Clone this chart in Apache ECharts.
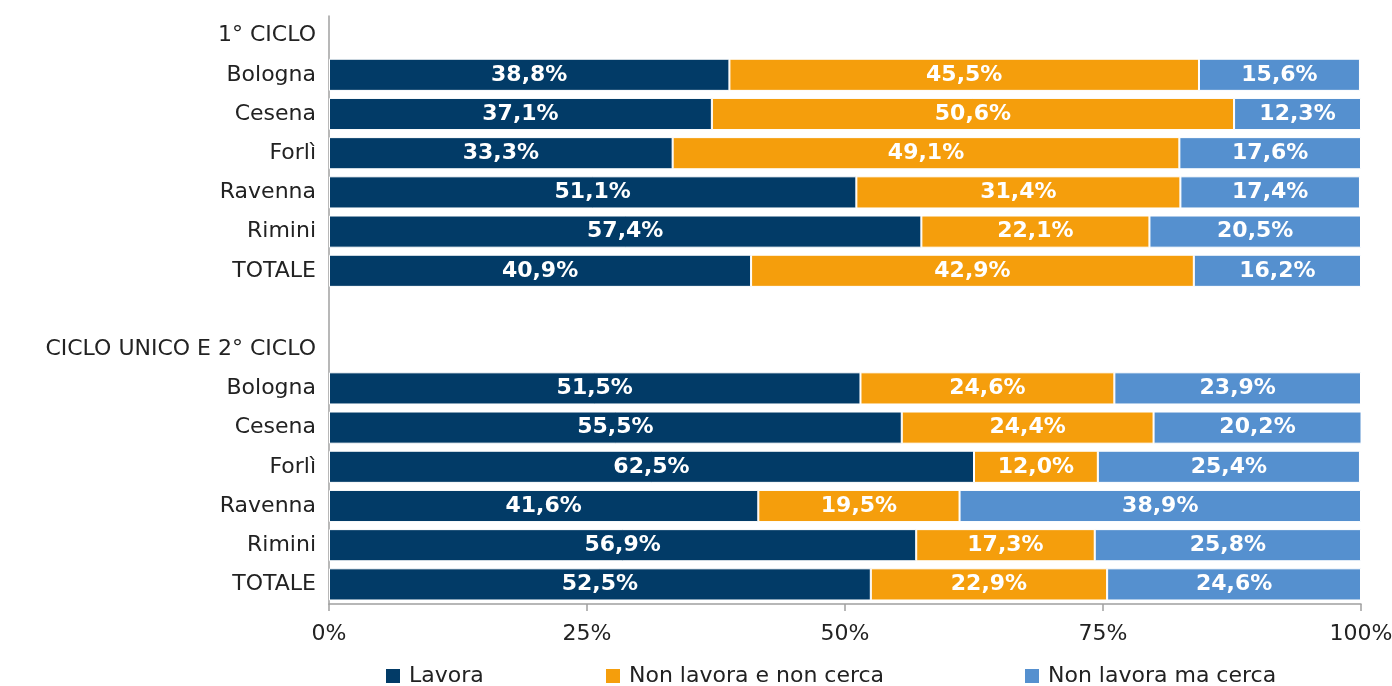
<!DOCTYPE html>
<html>
<head>
<meta charset="utf-8">
<script src="https://cdn.jsdelivr.net/npm/echarts@6/dist/echarts.min.js"></script>
<style>
  html, body { margin: 0; padding: 0; background: #ffffff; }
  #chart { width: 1392px; height: 686px; }
</style>
</head>
<body>
<div id="chart"></div>
<script>
// Row labels, top to bottom (group headers and a blank spacer row included)
const rowLabels = [
  '1° CICLO', 'Bologna', 'Cesena', 'Forlì', 'Ravenna', 'Rimini', 'TOTALE',
  '',
  'CICLO UNICO E 2° CICLO', 'Bologna', 'Cesena', 'Forlì', 'Ravenna', 'Rimini', 'TOTALE'
];

// Percentages per row (null on header / spacer rows)
const lavora = [null, 38.8, 37.1, 33.3, 51.1, 57.4, 40.9, null, null, 51.5, 55.5, 62.5, 41.6, 56.9, 52.5];
const nonLavoraNonCerca = [null, 45.5, 50.6, 49.1, 31.4, 22.1, 42.9, null, null, 24.6, 24.4, 12.0, 19.5, 17.3, 22.9];
const nonLavoraMaCerca = [null, 15.6, 12.3, 17.6, 17.4, 20.5, 16.2, null, null, 23.9, 20.2, 25.4, 38.9, 25.8, 24.6];

const seriesNames = ['Lavora', 'Non lavora e non cerca', 'Non lavora ma cerca'];
const seriesColors = ['#023b67', '#f59e0c', '#5590cf'];

const FONT = 'DejaVu Sans';
const rowKeys = rowLabels.map((_, i) => 'r' + i);

function pct(v) {
  return v.toFixed(1).replace('.', ',') + '%';
}

function makeSeries(name, data, color) {
  return {
    name: name,
    type: 'bar',
    stack: 'total',
    data: data,
    barCategoryGap: '18%',
    itemStyle: { color: color, borderColor: '#ffffff', borderWidth: 1 },
    label: {
      show: true,
      position: 'inside',
      color: '#ffffff',
      fontFamily: FONT,
      fontWeight: 'bold',
      fontSize: 22,
      formatter: p => (p.value == null ? '' : pct(p.value))
    },
    emphasis: { disabled: true }
  };
}

function legendItem(name, left) {
  return {
    data: [name],
    left: left,
    top: 660,
    icon: 'rect',
    itemWidth: 16,
    itemHeight: 16,
    selectedMode: false,
    textStyle: { fontFamily: FONT, fontSize: 22, color: '#222222', padding: [0, 0, 0, 3] }
  };
}

const chart = echarts.init(document.getElementById('chart'), null, { renderer: 'canvas' });
chart.setOption({
  animation: false,
  backgroundColor: '#ffffff',
  color: seriesColors,
  grid: {
    left: 329, right: 31, top: 16, bottom: 82,
    containLabel: false,
    outerBoundsMode: 'none'
  },
  legend: [
    legendItem(seriesNames[0], 379),
    legendItem(seriesNames[1], 599),
    legendItem(seriesNames[2], 1018)
  ],
  xAxis: {
    type: 'value',
    min: 0,
    max: 100,
    interval: 25,
    axisLine: { show: true, lineStyle: { color: '#a0a0a0', width: 1.5 } },
    axisTick: { show: true, length: 7, lineStyle: { color: '#a0a0a0', width: 1.5 } },
    splitLine: { show: false },
    axisLabel: {
      formatter: '{value}%',
      margin: 19,
      fontFamily: FONT,
      fontSize: 22,
      color: '#222222'
    }
  },
  yAxis: {
    type: 'category',
    inverse: true,
    data: rowKeys,
    axisLine: { show: true, lineStyle: { color: '#a0a0a0', width: 1.5 } },
    axisTick: { show: false },
    axisLabel: {
      margin: 13,
      fontFamily: FONT,
      fontSize: 22,
      color: '#222222',
      formatter: (v, i) => rowLabels[i]
    }
  },
  series: [
    makeSeries(seriesNames[0], lavora, seriesColors[0]),
    makeSeries(seriesNames[1], nonLavoraNonCerca, seriesColors[1]),
    makeSeries(seriesNames[2], nonLavoraMaCerca, seriesColors[2])
  ]
});
</script>
</body>
</html>
